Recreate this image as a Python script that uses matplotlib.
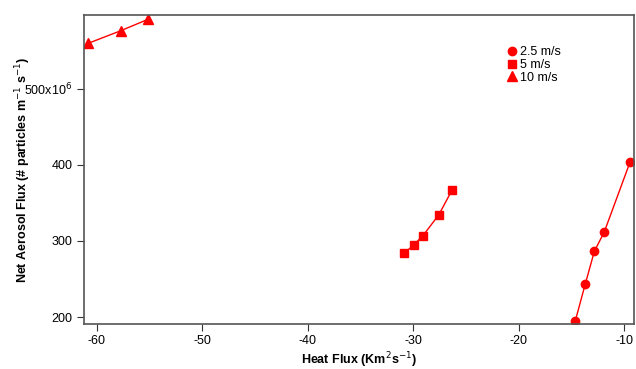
import matplotlib
matplotlib.use("Agg")
import matplotlib.pyplot as plt
from matplotlib.ticker import FixedLocator

plt.rcParams['font.family'] = ['Liberation Sans', 'DejaVu Sans']
plt.rcParams['axes.unicode_minus'] = False

x_25 = [-14.63, -13.69, -12.83, -11.89, -9.45]
y_25 = [195.3, 243.4, 286.4, 311.8, 403.6]
x_5 = [-30.84, -29.92, -29.07, -27.58, -26.29]
y_5 = [283.8, 295.3, 307.1, 334.2, 367.6]
x_10 = [-60.82, -57.73, -55.14]
y_10 = [559.7, 576.3, 591.3]
labels = ["2.5 m/s", "5 m/s", "10 m/s"]
xticks = [-60, -50, -40, -30, -20, -10]
yticks = [200, 300, 400, 500]
ytick_labels = ["200", "300", "400", r"500x10$^{6}$"]

fig = plt.figure(figsize=(6.36, 3.69), dpi=100)
ax = fig.add_axes([0.1313, 0.1211, 0.8656, 0.8374])

ax.plot(x_25, y_25, color='red', lw=1, marker='o', ms=6, label=labels[0])
ax.plot(x_5, y_5, color='red', lw=1, marker='s', ms=6, label=labels[1])
ax.plot(x_10, y_10, color='red', lw=1, marker='^', ms=7, label=labels[2])

ax.set_xlim(-61.25, -9.07)
ax.set_ylim(190.4, 596.6)
ax.xaxis.set_major_locator(FixedLocator(xticks))
ax.set_yticks(yticks)
ax.set_yticklabels(ytick_labels)
ax.tick_params(direction='out', length=5, labelsize=9, color='#333333', top=False, right=False, pad=3)
for s in ax.spines.values():
    s.set_color('#555555')
    s.set_linewidth(1.2)

ax.set_xlabel(r"Heat Flux (Km$^{2}$s$^{-1}$)", fontsize=9, fontweight='bold', labelpad=2)
ax.set_ylabel(r"Net Aerosol Flux (# particles m$^{-1}$ s$^{-1}$)", fontsize=9, fontweight='bold')
ax.yaxis.set_label_coords(-0.092, 0.5)

leg = ax.legend(loc='upper left', bbox_to_anchor=(0.761, 0.92), frameon=False, fontsize=9,
                handlelength=0.6, handletextpad=0.3, labelspacing=0.05, borderpad=0, markerscale=1.0)
for h in leg.legend_handles:
    h.set_linestyle('None')

fig.savefig("out.png", dpi=100)
